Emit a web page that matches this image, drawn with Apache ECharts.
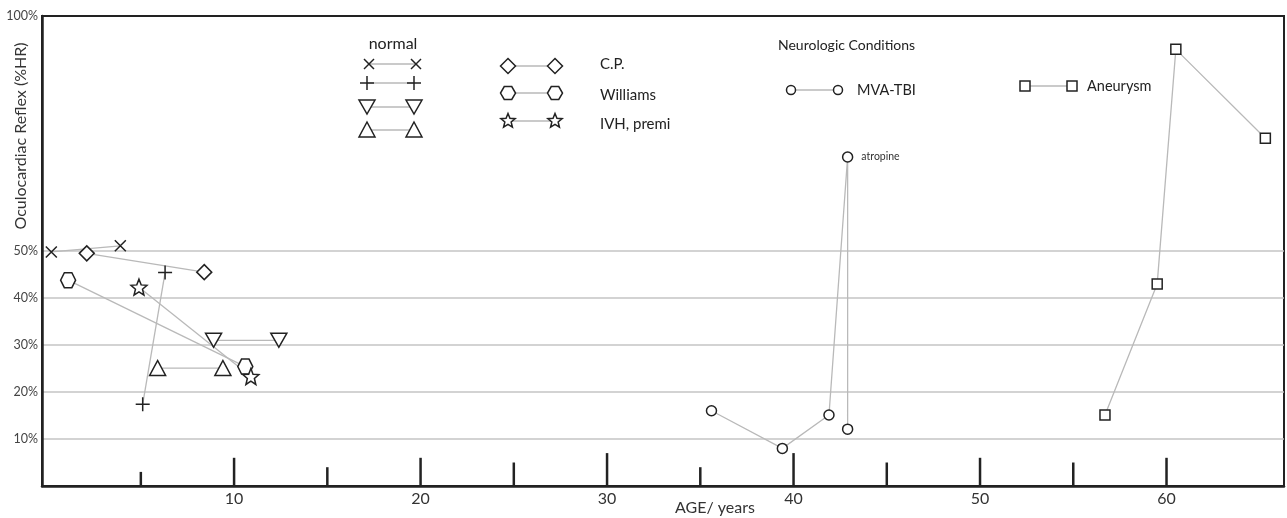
<!DOCTYPE html>
<html><head><meta charset="utf-8">
<script src="https://cdn.jsdelivr.net/npm/echarts@6/dist/echarts.min.js"></script>
<style>html,body{margin:0;padding:0;background:#fff}#c{width:1287px;height:518px}</style>
</head><body><div id="c"></div>
<script>
// ---- data (age in years, oculocardiac reflex in %HR) ----
const normalCrossAge = [0.2, 3.9];
const normalCrossHR = [49.8, 51.1];
const normalPlusAge = [5.1, 6.3];
const normalPlusHR = [17.4, 45.4];
const normalDownAge = [8.9, 12.4];
const normalDownHR = [31, 31];
const normalUpAge = [5.9, 9.4];
const normalUpHR = [25.1, 25.1];
const cpAge = [2.1, 8.4];
const cpHR = [49.5, 45.5];
const williamsAge = [1.1, 10.6];
const williamsHR = [43.8, 25.4];
const ivhAge = [4.9, 10.9];
const ivhHR = [42.3, 23.3];
const mvaAge = [35.6, 39.4, 41.9, 42.9, 42.9];
const mvaHR = [16, 8, 15.1, 70, 12.1];
const mvaNotes = ['', '', '', 'atropine', ''];
const aneurysmAge = [56.7, 59.5, 60.5, 65.3];
const aneurysmHR = [15.1, 43, 92.9, 74];
const xTickLabels = [10, 20, 30, 40, 50, 60];
const yTickLabels = [10, 20, 30, 40, 50, 100];
const tickAges = [5, 10, 15, 20, 25, 30, 35, 40, 45, 50, 55, 60];
const tickHeights = [3, 6, 4, 6, 5, 7, 4, 7, 5, 6, 5, 6];

// ---- styles ----
const INK = '#222';
const LINEC = '#b9b9b9';
const FONT = 'Lato, "Open Sans", sans-serif';

function starPts(cx, cy, R, r) {
  const p = [];
  for (let i = 0; i < 10; i++) {
    const rad = i % 2 ? r : R;
    const a = -Math.PI / 2 + i * Math.PI / 5;
    p.push([cx + rad * Math.cos(a), cy + rad * Math.sin(a)]);
  }
  return p;
}
function hexPts(cx, cy, R) {
  const p = [];
  for (let i = 0; i < 6; i++) {
    const a = i * Math.PI / 3;
    p.push([cx + R * Math.cos(a), cy + R * Math.sin(a)]);
  }
  return p;
}
function toPath(pts) {
  return 'path://M' + pts.map(q => q[0].toFixed(2) + ',' + q[1].toFixed(2)).join('L') + 'Z';
}
const SYM = {
  cross: 'path://M0,0L10,10M10,0L0,10',
  plus: 'path://M5,0L5,10M0,5L10,5',
  hex: toPath(hexPts(10, 10, 10)),
  star: toPath(starPts(10, 10, 10, 4.4))
};

function zip(a, b) { return a.map((v, i) => [v, b[i]]); }
function lineSeries(name, ages, vals, symbol, size, extra) {
  return Object.assign({
    name, type: 'line', data: zip(ages, vals), symbol, symbolSize: size,
    showAllSymbol: true, z: 3,
    lineStyle: { color: LINEC, width: 1.3 },
    itemStyle: { color: '#fff', borderColor: INK, borderWidth: 1.5 },
    emphasis: { disabled: true }, animation: false
  }, extra || {});
}

const mvaData = mvaAge.map((a, i) => {
  const d = { value: [a, mvaHR[i]] };
  if (mvaNotes[i]) d.label = { show: true, formatter: mvaNotes[i], position: 'right', distance: 8, fontSize: 10.5, color: '#333', fontFamily: FONT };
  return d;
});

// ---- legend drawn as graphics ----
const G = [];
function gl(x1, y1, x2, y2, color, w) {
  G.push({ type: 'line', shape: { x1, y1, x2, y2 }, style: { stroke: color, lineWidth: w }, z: 10 });
}
function glyph(kind, x, y) {
  const st = { stroke: INK, lineWidth: 1.5, fill: '#fff' };
  if (kind === 'cross') { gl(x - 5, y - 5, x + 5, y + 5, INK, 1.5); gl(x + 5, y - 5, x - 5, y + 5, INK, 1.5); }
  else if (kind === 'plus') { gl(x - 7, y, x + 7, y, INK, 1.5); gl(x, y - 7, x, y + 7, INK, 1.5); }
  else if (kind === 'tdown') G.push({ type: 'polygon', shape: { points: [[x - 8, y - 7], [x + 8, y - 7], [x, y + 7]] }, style: st, z: 11 });
  else if (kind === 'tup') G.push({ type: 'polygon', shape: { points: [[x, y - 8], [x + 8, y + 7], [x - 8, y + 7]] }, style: st, z: 11 });
  else if (kind === 'diamond') G.push({ type: 'polygon', shape: { points: [[x, y - 7.5], [x + 7.5, y], [x, y + 7.5], [x - 7.5, y]] }, style: st, z: 11 });
  else if (kind === 'hex') G.push({ type: 'polygon', shape: { points: hexPts(x, y, 7.5) }, style: st, z: 11 });
  else if (kind === 'star') G.push({ type: 'polygon', shape: { points: starPts(x, y, 7.5, 3.3) }, style: st, z: 11 });
  else if (kind === 'circle') G.push({ type: 'circle', shape: { cx: x, cy: y, r: 4.5 }, style: st, z: 11 });
  else if (kind === 'square') G.push({ type: 'rect', shape: { x: x - 5, y: y - 5, width: 10, height: 10 }, style: st, z: 11 });
}
function legendRow(kind, x1, x2, y) { gl(x1, y, x2, y, LINEC, 1.3); glyph(kind, x1, y); glyph(kind, x2, y); }
function txt(text, x, y, size, align) {
  G.push({ type: 'text', x, y, z: 12, style: { text, fontSize: size, fontFamily: FONT, fill: '#222', align: align || 'left', verticalAlign: 'middle' } });
}
txt('normal', 393, 44, 16, 'center');
legendRow('cross', 369, 416, 64);
legendRow('plus', 367, 414, 83);
legendRow('tdown', 367, 414, 107);
legendRow('tup', 367, 414, 130);
legendRow('diamond', 508, 555, 66);
legendRow('hex', 508, 555, 93);
legendRow('star', 508, 555, 121);
txt('C.P.', 600, 64, 15);
txt('Williams', 600, 95, 15);
txt('IVH, premi', 600, 124, 15);
txt('Neurologic Conditions', 778, 45, 14);
legendRow('circle', 791, 838, 90);
txt('MVA-TBI', 857, 90, 14.5);
legendRow('square', 1025, 1072, 86);
txt('Aneurysm', 1087, 86, 14.5);
G.push({ type: 'text', x: 21, y: 136, rotation: Math.PI / 2, z: 12, style: { text: 'Oculocardiac Reflex (%HR)', fontSize: 16, fontFamily: FONT, fill: '#333', align: 'center', verticalAlign: 'middle' } });
G.push({ type: 'text', x: 715, y: 508, z: 12, style: { text: 'AGE/ years', fontSize: 16, fontFamily: FONT, fill: '#333', align: 'center', verticalAlign: 'middle' } });

const splitColors = ['transparent', '#c4c4c4', '#c4c4c4', '#c4c4c4', '#c4c4c4', '#c4c4c4', 'transparent', 'transparent', 'transparent', 'transparent', 'transparent'];

const option = {
  backgroundColor: '#fff',
  animation: false,
  grid: { left: 42, right: 3, top: 16, bottom: 32, show: true, borderColor: INK, borderWidth: 2, backgroundColor: 'transparent' },
  xAxis: {
    type: 'value', min: -0.3, max: 66.3,
    axisLine: { show: true, onZero: false, lineStyle: { color: INK, width: 2.5 } },
    axisTick: { show: false },
    splitLine: { show: false },
    axisLabel: { customValues: xTickLabels, fontSize: 16, color: '#333', fontFamily: FONT, margin: 5 }
  },
  yAxis: {
    type: 'value', min: 0, max: 100, interval: 10,
    axisLine: { show: true, onZero: false, lineStyle: { color: INK, width: 2.5 } },
    axisTick: { show: false },
    splitLine: { show: true, lineStyle: { color: splitColors, width: 1.5 } },
    axisLabel: {
      fontSize: 12.5, color: '#444', fontFamily: FONT, margin: 4,
      formatter: v => yTickLabels.indexOf(v) >= 0 ? v + '%' : ''
    }
  },
  graphic: G,
  series: [
    {
      type: 'custom', z: 2, silent: true,
      data: zip(tickAges, tickHeights),
      renderItem: (params, api) => {
        const a = api.coord([api.value(0), 0]);
        const b = api.coord([api.value(0), api.value(1)]);
        return { type: 'line', shape: { x1: a[0], y1: a[1], x2: b[0], y2: b[1] }, style: { stroke: INK, lineWidth: 2.5 } };
      }
    },
    lineSeries('normal ×', normalCrossAge, normalCrossHR, SYM.cross, 11),
    lineSeries('normal +', normalPlusAge, normalPlusHR, SYM.plus, 14),
    lineSeries('normal ▽', normalDownAge, normalDownHR, 'triangle', [16, 14], { symbolRotate: 180 }),
    lineSeries('normal △', normalUpAge, normalUpHR, 'triangle', [16, 15]),
    lineSeries('C.P.', cpAge, cpHR, 'diamond', 15),
    lineSeries('Williams', williamsAge, williamsHR, SYM.hex, 15),
    lineSeries('IVH, premi', ivhAge, ivhHR, SYM.star, 16),
    Object.assign(lineSeries('MVA-TBI', [], [], 'circle', 10), { data: mvaData }),
    lineSeries('Aneurysm', aneurysmAge, aneurysmHR, 'rect', 10)
  ]
};
echarts.init(document.getElementById('c')).setOption(option);
</script>
</body></html>
